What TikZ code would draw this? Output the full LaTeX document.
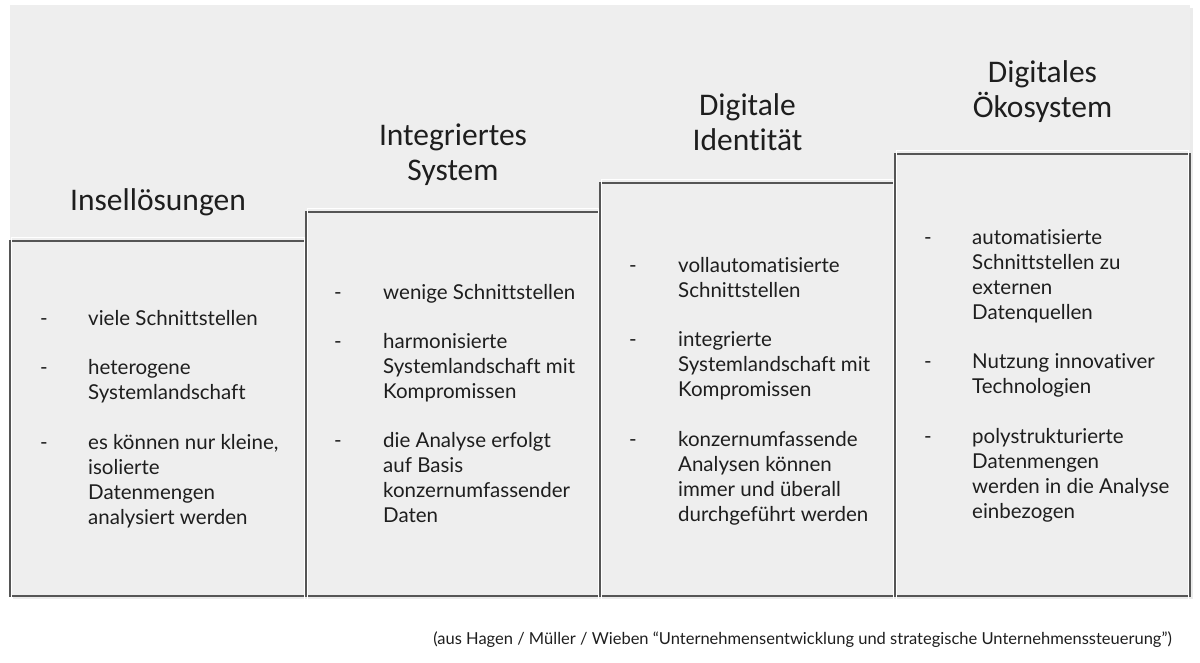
\documentclass[tikz,border=0pt]{standalone}
\usepackage{fontspec}
\setmainfont[Ligatures=CommonOff]{Lato}
\newfontfamily\headfont[Ligatures=CommonOff]{Carlito}
\usepackage{tikz}
\usetikzlibrary{positioning,calc}
\definecolor{frame}  {HTML}{555555}
\definecolor{paper}  {HTML}{EEEEEE}
\definecolor{ink}    {HTML}{1E1E1E}
\tikzset{
  % --- boxes
  stage/.style = {draw=frame, line width=2pt, fill=paper, inner sep=0pt},
  inner/.style = {draw=white, line width=1pt},
  % --- texts
  head/.style  = {font=\headfont\fontsize{31.5}{35}\selectfont, text=ink, align=center},
  bullet/.style= {font=\fontsize{20.5}{25}\selectfont, text=ink, anchor=north west, inner sep=0pt},
  item/.style  = {font=\fontsize{20.5}{25}\selectfont, text=ink, anchor=north west, inner sep=0pt,
                  align=left},
  src/.style   = {font=\fontsize{16.5}{18}\selectfont, text=ink, anchor=east, inner sep=0pt},
}
\begin{document}
\begin{tikzpicture}[x=1pt,y=-1pt]
  \useasboundingbox (0,0) rectangle (1200,663);
  \fill[black!8] (13,8) rectangle (1193,599);
  \fill[paper] (10,5) rectangle (1190,596);

  % --- the four stages
  \node[stage, minimum width=296pt, minimum height=355pt] (s1) at (158,418.5) {};
  \node[stage, minimum width=294pt, minimum height=384pt] (s2) at (453,404) {};
  \node[stage, minimum width=295pt, minimum height=413pt] (s3) at (747.5,389.5) {};
  \node[stage, minimum width=295pt, minimum height=442pt] (s4) at (1042.5,375) {};
  \foreach \s in {s1,s2,s3,s4}
    \draw[inner] ([shift={(2.5,-2.5)}]\s.north west) rectangle ([shift={(-2.5,2.5)}]\s.south east);

  % --- headings
  \node[head, above=21pt of s1.north] (h1) {Insellösungen};
  \node[head, above=22pt of s2.north] (h2) {Integriertes\\System};
  \node[head, above=28pt of s3.north] (h3) {Digitale\\Identität};
  \node[head, above=27pt of s4.north] (h4) {Digitales\\Ökosystem};

  % --- Insellösungen
  \node[bullet] (d11) at (40,308) {\strut-};
  \node[item] (t11) at (88,308) {\strut viele Schnittstellen};
  \node[bullet] (d12) at (40,357) {\strut-};
  \node[item] (t12) at (88,357) {\strut heterogene\\Systemlandschaft};
  \node[bullet] (d13) at (40,432) {\strut-};
  \node[item] (t13) at (88,432) {\strut es können nur kleine,\\isolierte\\Datenmengen\\analysiert werden};

  % --- Integriertes System
  \node[bullet] (d21) at (334,282) {\strut-};
  \node[item] (t21) at (383,282) {\strut wenige Schnittstellen};
  \node[bullet] (d22) at (334,331) {\strut-};
  \node[item] (t22) at (383,331) {\strut harmonisierte\\Systemlandschaft mit\\Kompromissen};
  \node[bullet] (d23) at (334,430) {\strut-};
  \node[item] (t23) at (383,430) {\strut die Analyse erfolgt\\auf Basis\\konzernumfassender\\Daten};

  % --- Digitale Identität
  \node[bullet] (d31) at (629,255) {\strut-};
  \node[item] (t31) at (678,255) {\strut vollautomatisierte\\Schnittstellen};
  \node[bullet] (d32) at (629,329) {\strut-};
  \node[item] (t32) at (678,329) {\strut integrierte\\Systemlandschaft mit\\Kompromissen};
  \node[bullet] (d33) at (629,429) {\strut-};
  \node[item] (t33) at (678,429) {\strut konzernumfassende\\Analysen können\\immer und überall\\durchgeführt werden};

  % --- Digitales Ökosystem
  \node[bullet] (d41) at (924,227) {\strut-};
  \node[item] (t41) at (972,227) {\strut automatisierte\\Schnittstellen zu\\externen\\Datenquellen};
  \node[bullet] (d42) at (924,351) {\strut-};
  \node[item] (t42) at (972,351) {\strut Nutzung innovativer\\Technologien};
  \node[bullet] (d43) at (924,426) {\strut-};
  \node[item] (t43) at (972,426) {\strut polystrukturierte\\Datenmengen\\werden in die Analyse\\einbezogen};

  \node[src] (cite) at (1172,640)
    {(aus Hagen / Müller / Wieben “Unternehmensentwicklung und strategische Unternehmenssteuerung”)};
\end{tikzpicture}
\end{document}
